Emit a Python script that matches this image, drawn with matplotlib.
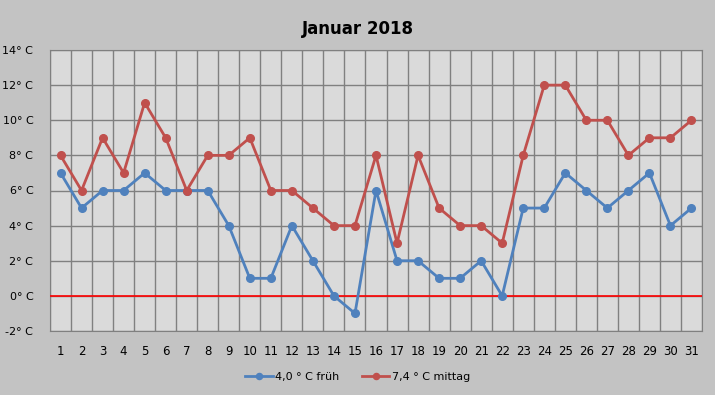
import numpy as np
import matplotlib.pyplot as plt

days = list(range(1, 32))
frueh = [7, 5, 6, 6, 7, 6, 6, 6, 4, 1, 1, 4, 2, 0, -1, 6, 2, 2, 1, 1, 2, 0, 5, 5, 7, 6, 5, 6, 7, 4, 5]
mittag = [8, 6, 9, 7, 11, 9, 6, 8, 8, 9, 6, 6, 5, 4, 4, 8, 3, 8, 5, 4, 4, 3, 8, 12, 12, 10, 10, 8, 9, 9, 10]
yticks = list(range(-2, 15, 2))

label_frueh = '4,0 ° C früh'
label_mittag = '7,4 ° C mittag'

fig = plt.figure(figsize=(7.15, 3.95), dpi=100, facecolor='#c3c3c3')
ax = fig.add_axes([50 / 715, 1 - 331 / 395, 652 / 715, 281 / 395])
ax.set_facecolor('#dadada')

x = np.arange(len(days))
ax.plot(x, frueh, '-o', color='#4f81bd', lw=2, ms=5.5, label=label_frueh, zorder=4)
ax.plot(x, mittag, '-o', color='#c0504d', lw=2, ms=5.5, label=label_mittag, zorder=4)
ax.axhline(0, color='#ff0000', lw=1.2, zorder=3)

ax.set_xlim(-0.5, len(days) - 0.5)
ax.set_ylim(-2, 14)
ax.set_yticks(yticks)
ax.set_yticklabels([f'{v}° C' for v in yticks])
ax.set_xticks(x)
ax.set_xticklabels([str(d) for d in days])
ax.set_xticks(np.arange(-0.5, len(days), 1), minor=True)
ax.grid(True, which='minor', axis='x', color='#808080', lw=1)
ax.grid(True, which='major', axis='y', color='#808080', lw=1)
ax.set_axisbelow(True)
ax.tick_params(which='both', length=0)
ax.tick_params(axis='y', pad=12, labelsize=8)
ax.tick_params(axis='x', pad=10, labelsize=8.5)
for s in ax.spines.values():
    s.set_color('#808080')

fig.suptitle('Januar 2018', y=0.95, fontsize=12, fontweight='bold')
fig.legend(loc='center', bbox_to_anchor=(0.5, 1 - 377 / 395), ncol=2, frameon=False,
           fontsize=8, handlelength=2.5, handletextpad=0.2, columnspacing=2,
           markerscale=0.8)

fig.savefig('out.png', dpi=100, facecolor=fig.get_facecolor())
